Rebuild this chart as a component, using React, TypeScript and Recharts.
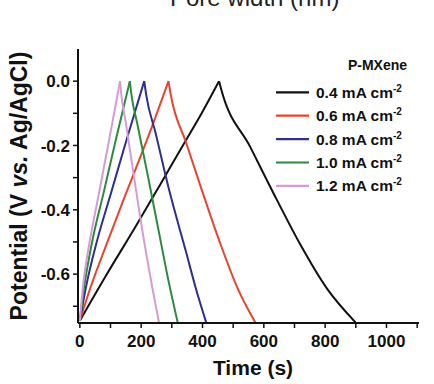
import { LineChart, Line, XAxis, YAxis, Legend } from 'recharts';

// time (s) / potential (V); peak point is shared by both branches
const t04 = [0, 85, 180, 260, 336, 400, 454, 460, 556, 643, 719, 806, 899];
const v04 = [-0.745, -0.605, -0.455, -0.325, -0.2, -0.095, 0, -0.022, -0.205, -0.37, -0.508, -0.645, -0.75];

const t06 = [0, 30, 96, 142, 226, 289, 296, 346, 400, 458, 515, 572];
const v06 = [-0.745, -0.655, -0.485, -0.37, -0.165, 0, -0.04, -0.19, -0.345, -0.505, -0.645, -0.75];

const t08 = [0, 20, 55, 101, 150, 210, 216, 248, 289, 346, 380, 412];
const v08 = [-0.745, -0.64, -0.5, -0.35, -0.19, 0, -0.04, -0.165, -0.33, -0.53, -0.65, -0.75];

const t10 = [0, 14, 40, 78, 118, 163, 168, 188, 223, 259, 290, 319];
const v10 = [-0.745, -0.64, -0.5, -0.345, -0.18, 0, -0.04, -0.135, -0.3, -0.475, -0.625, -0.75];

const t12 = [0, 10, 30, 58, 100, 131, 135, 150, 177, 210, 236, 258];
const v12 = [-0.745, -0.64, -0.51, -0.37, -0.16, 0, -0.04, -0.13, -0.3, -0.5, -0.64, -0.75];

const currents = ['0.4', '0.6', '0.8', '1.0', '1.2'];
const colors = ['#111111', '#e8452c', '#2e2f90', '#2b8a3e', '#d89ad6'];

const xTicks = [0, 100, 200, 300, 400, 500, 600, 700, 800, 900, 1000, 1100];
const yTicks = [-0.7, -0.6, -0.5, -0.4, -0.3, -0.2, -0.1, 0];

// split each curve at its top into a charge and a discharge branch
const branches = (t: number[], v: number[]) => {
  const rows = t.map((x, i) => ({ t: x, v: v[i] }));
  const top = v.indexOf(Math.max(...v));
  return [rows.slice(0, top + 1), rows.slice(top)];
};
const series = [branches(t04, v04), branches(t06, v06), branches(t08, v08), branches(t10, v10), branches(t12, v12)];

const FONT = '"Liberation Sans", Arial, sans-serif';
const TICK = { fontSize: 17, fontWeight: 700, fill: '#111', fontFamily: FONT };

function renderLegend(props: any) {
  const items = (props.payload || []).filter((it: any) => it.type !== 'none');
  return (
    <svg width={160} height={150} style={{ fontFamily: FONT, fontWeight: 700 }}>
      <text x={145} y={20} textAnchor="end" fontSize={14} fill="#111">P-MXene</text>
      {items.map((it: any, i: number) => {
        const cy = 42.3 + i * 23.4;
        return (
          <g key={i}>
            <line x1={14} x2={47} y1={cy} y2={cy} stroke={it.color} strokeWidth={2.2} />
            <text x={54} y={cy + 5.5} fontSize={15.5} fill="#111">
              {it.value} mA cm
              <tspan dy={-6} fontSize={10}>-2</tspan>
            </text>
          </g>
        );
      })}
    </svg>
  );
}

export default function App() {
  return (
    <div style={{ position: 'relative', width: 434, height: 384, background: '#fff' }}>
      <style>{'body{margin:0}'}</style>
      <svg width={434} height={20} style={{ position: 'absolute', left: 0, top: 0 }}>
        <text x={170} y={6} fontSize={24} fill="#222" fontFamily={FONT}>Pore width (nm)</text>
      </svg>
      <LineChart width={434} height={384} margin={{ top: 49, right: 15, bottom: 0, left: 0 }}>
        <XAxis
          type="number" dataKey="t" domain={[-6, 1106]} ticks={xTicks} allowDataOverflow
          tickFormatter={(v: number) => (v % 200 === 0 ? String(v) : '')}
          tick={TICK} tickSize={5} tickMargin={7} height={61}
          axisLine={{ stroke: '#111', strokeWidth: 2 }} tickLine={{ stroke: '#111', strokeWidth: 1.5 }}
          label={{
            content: () => (
              <text x={253} y={375} textAnchor="middle" fontSize={21} fontWeight={700} fill="#111" fontFamily={FONT}>Time (s)</text>
            ),
          }}
        />
        <XAxis xAxisId="top" orientation="top" type="number" dataKey="t" domain={[-6, 1106]}
          height={0} tick={false} tickLine={false} axisLine={{ stroke: '#111', strokeWidth: 2 }} />
        <YAxis
          type="number" domain={[-0.752, 0.1]} ticks={yTicks} allowDataOverflow width={78}
          tickFormatter={(v: number) => (Math.round(v * 10) % 2 === 0 ? v.toFixed(1) : '')}
          tick={TICK} tickSize={5} tickMargin={3}
          axisLine={{ stroke: '#111', strokeWidth: 2 }} tickLine={{ stroke: '#111', strokeWidth: 1.5 }}
          label={{
            content: () => (
              <text transform="translate(27,186) rotate(-90)" textAnchor="middle" fontSize={23} fontWeight={700} fill="#111" fontFamily={FONT}>
                Potential (V <tspan fontStyle="italic">vs.</tspan> Ag/AgCl)
              </text>
            ),
          }}
        />
        <YAxis yAxisId="right" orientation="right" type="number" domain={[-0.752, 0.1]}
          width={0} tick={false} tickLine={false} axisLine={{ stroke: '#111', strokeWidth: 2 }} />
        <Legend
          layout="vertical" align="center" verticalAlign="middle"
          content={renderLegend}
          wrapperStyle={{ left: 262, top: 50, width: 160, height: 150 }}
        />
        {series.map(([charge], i) => (
          <Line key={'c' + i} data={charge} dataKey="v" name={currents[i]} type="monotone"
            stroke={colors[i]} strokeWidth={2} dot={false} isAnimationActive={false} />
        ))}
        {series.map(([, discharge], i) => (
          <Line key={'d' + i} data={discharge} dataKey="v" name={currents[i] + ' discharge'} type="monotone"
            legendType="none" stroke={colors[i]} strokeWidth={2} dot={false} isAnimationActive={false} />
        ))}
      </LineChart>
    </div>
  );
}
